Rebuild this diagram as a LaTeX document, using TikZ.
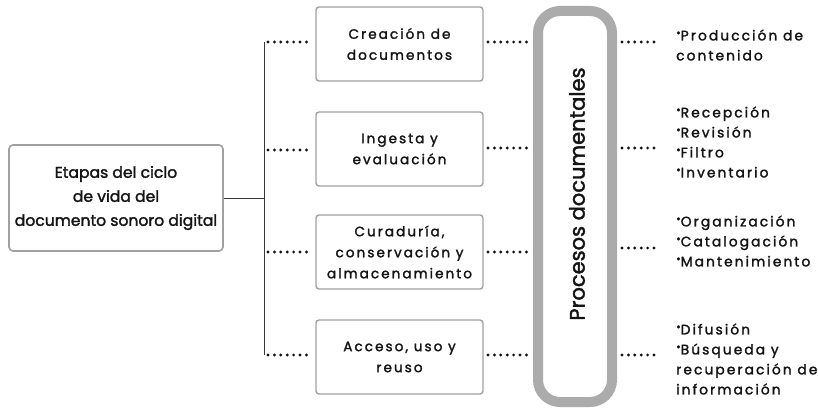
\documentclass[tikz,border=0pt]{standalone}
\usepackage{fontspec}
\setmainfont{Poppins}[FakeBold=1.8]
\newfontfamily\spaced[LetterSpace=15,FakeBold=1.8]{Poppins}
\usetikzlibrary{calc}
\definecolor{boxgray}{HTML}{A0A0A0}
\definecolor{framegray}{HTML}{ABABAB}
\definecolor{ink}{HTML}{141414}
\newcommand{\bul}{\raisebox{0.5ex}{\scalebox{0.8}{•}}}
\begin{document}
\begin{tikzpicture}[x=1pt,y=-1pt,
  stagebox/.style={draw=boxgray,line width=1.4pt,rounded corners=3pt,minimum width=167pt,minimum height=74pt,align=center,text=ink,font=\spaced\fontsize{13.6}{21}\selectfont,inner sep=0pt},
  dots/.style={draw=ink,line width=3.2pt,line cap=round,dash pattern=on 0pt off 6.4pt},
  item/.style={anchor=west,align=left,text=ink,font=\spaced\fontsize{13.8}{20}\selectfont,inner sep=0pt},
  trunk/.style={draw=ink!85,line width=1pt}]
\useasboundingbox (0,0) rectangle (818,414);
\node[draw=boxgray,line width=1.6pt,rounded corners=4pt,minimum width=214pt,minimum height=106pt,align=center,text=ink,font=\fontsize{15.6}{24}\selectfont,inner sep=0pt] (left) at (116,198) {Etapas del ciclo\\de vida del\\documento sonoro digital};
\node[stagebox] (b1) at (399.5,44) {Creación de\\documentos};
\node[stagebox] (b2) at (399.5,149) {Ingesta y\\evaluación};
\node[stagebox] (b3) at (399.5,252) {Curaduría,\\conservación y\\almacenamiento};
\node[stagebox] (b4) at (399.5,357) {Acceso, uso y\\reuso};
\node[draw=framegray,line width=10pt,rounded corners=22pt,minimum width=74pt,minimum height=391pt,inner sep=0pt] (p) at (575,206.5) {};
\node[rotate=90,text=ink,font=\fontsize{21}{24}\selectfont] (pt) at (577,194) {Procesos documentales};
\coordinate (j) at (264,198);
\coordinate (t1) at (264,42);
\coordinate (t4) at (264,355);
\draw[trunk] (left.east) -- (j);
\draw[trunk] (t1) -- (t4);
\foreach \i/\y in {1/42,2/150,3/252,4/355}{
  \coordinate (l\i) at (268,\y);
  \coordinate (m\i) at (311,\y);
  \draw[dots] (l\i) -- (m\i);
}
\foreach \i/\y in {1/42,2/148,3/252,4/355}{
  \coordinate (n\i) at (488,\y);
  \coordinate (o\i) at (528,\y);
  \draw[dots] (n\i) -- (o\i);
}
\foreach \i/\y in {1/42,2/148,3/248,4/355}{
  \coordinate (q\i) at (622,\y);
  \coordinate (s\i) at (660,\y);
  \draw[dots] (q\i) -- (s\i);
}
\node[item] (r1) at (676,45) {\bul Producción de\\contenido};
\node[item] (r2) at (676,142) {\bul Recepción\\\bul Revisión\\\bul Filtro\\\bul Inventario};
\node[item] (r3) at (676,241) {\bul Organización\\\bul Catalogación\\\bul Mantenimiento};
\node[item] (r4) at (676,359) {\bul Difusión\\\bul Búsqueda y\\recuperación de\\información};
\end{tikzpicture}
\end{document}
